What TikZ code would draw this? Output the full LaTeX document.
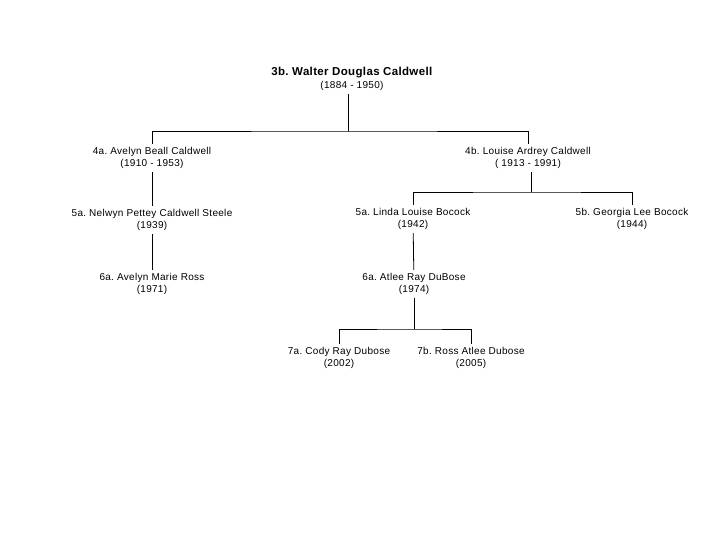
\documentclass[tikz,border=0pt]{standalone}
\usepackage{fontspec}
\setmainfont[LetterSpace=3]{Liberation Sans}
\frenchspacing

\begin{document}
\begin{tikzpicture}[
    x=1pt, y=-1pt,
    person/.style={align=center, inner sep=3pt,
        font=\fontsize{10}{12.5}\selectfont},
    edge/.style={line width=0.8pt, -}
]
    \useasboundingbox (0,0) rectangle (720,540);
    \node[person] (root) at (352,79) {\fontsize{11.5}{13.5}\selectfont\textbf{3b. Walter Douglas Caldwell}\\\fontsize{10}{12.5}\selectfont(1884 - 1950)};
    \node[person] (a4) at (152,158) {4a. Avelyn Beall Caldwell\\(1910 - 1953)};
    \node[person] (b4) at (528,158) {4b. Louise Ardrey Caldwell\\( 1913 - 1991)};
    \node[person] (a5n) at (152,220) {5a. Nelwyn Pettey Caldwell Steele\\(1939)};
    \node[person] (a6) at (152,284) {6a. Avelyn Marie Ross\\(1971)};
    \node[person] (a5) at (413,219) {5a. Linda Louise Bocock\\(1942)};
    \node[person] (b5) at (632,219) {5b. Georgia Lee Bocock\\(1944)};
    \node[person] (a6b) at (414,284) {6a. Atlee Ray DuBose\\(1974)};
    \node[person] (a7) at (339,358) {7a. Cody Ray Dubose\\(2002)};
    \node[person] (b7) at (471,358) {7b. Ross Atlee Dubose\\(2005)};
    \coordinate (j0) at (348,131);
    \coordinate (j1) at (531,192);
    \coordinate (j2) at (414,329);
    \draw[edge] (root.south -| j0) -- (j0);
    \draw[edge] (a4) |- (j0) -| (b4);
    \draw[edge] (a4) -- (a5n);
    \draw[edge] (a5n) -- (a6);
    \draw[edge] (b4.south -| j1) -- (j1);
    \draw[edge] (a5) |- (j1) -| (b5);
    \draw[edge] (a5) -- (a6b);
    \draw[edge] (a6b) -- (j2);
    \draw[edge] (a7) |- (j2) -| (b7);
\end{tikzpicture}
\end{document}
